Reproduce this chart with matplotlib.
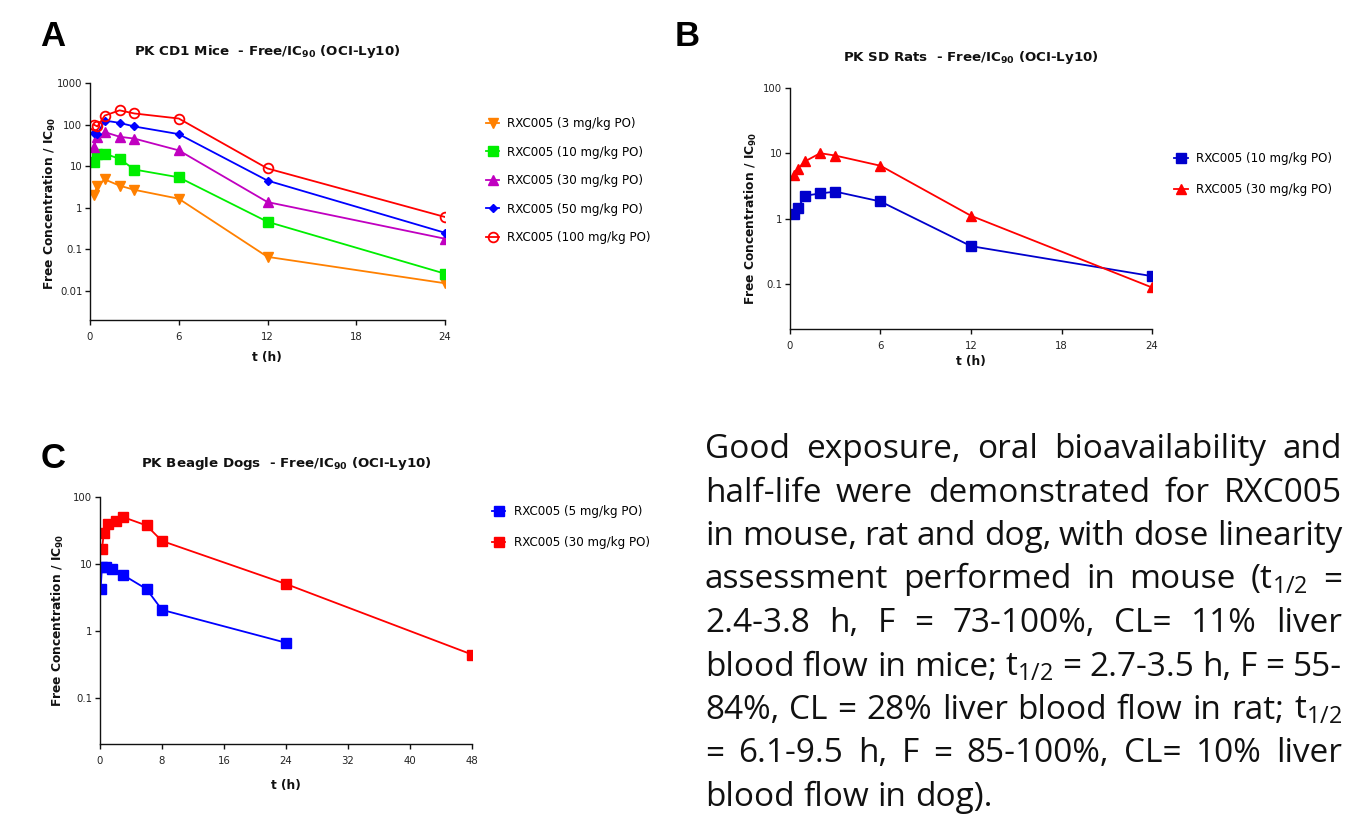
import numpy as np
import matplotlib
matplotlib.use("Agg")
import matplotlib.pyplot as plt

plt.rcParams['font.family'] = ['DejaVu Sans']
plt.rcParams['mathtext.fontset'] = 'custom'
plt.rcParams['mathtext.rm'] = 'Open Sans'
plt.rcParams['mathtext.it'] = 'Open Sans'
plt.rcParams['mathtext.default'] = 'rm'

# ---------------- data ----------------
# Panel A: CD1 mice
mice_t = [0.25, 0.5, 1, 2, 3, 6, 12, 24]
mice_3 = [2.0, 3.4, 4.8, 3.4, 2.7, 1.65, 0.066, 0.0153]
mice_10 = [12.5, 20, 20, 15, 8.3, 5.4, 0.46, 0.026]
mice_30 = [29, 50, 66, 51, 46, 24, 1.37, 0.18]
mice_50 = [62, 60, 125, 110, 90, 59, 4.5, 0.25]
mice_100 = [100, 90, 165, 220, 185, 140, 8.8, 0.6]
mice_labels = ['RXC005 (3 mg/kg PO)', 'RXC005 (10 mg/kg PO)', 'RXC005 (30 mg/kg PO)',
               'RXC005 (50 mg/kg PO)', 'RXC005 (100 mg/kg PO)']

# Panel B: SD rats
rat_t = [0.25, 0.5, 1, 2, 3, 6, 12, 24]
rat_10 = [1.2, 1.45, 2.27, 2.45, 2.62, 1.85, 0.385, 0.134]
rat_30 = [4.7, 5.8, 7.6, 10.1, 9.3, 6.5, 1.12, 0.09]
rat_labels = ['RXC005 (10 mg/kg PO)', 'RXC005 (30 mg/kg PO)']

# Panel C: beagle dogs
dog_t5 = [0.083, 0.25, 0.75, 1.5, 3, 6, 8, 24]
dog_5 = [4.2, 8.9, 8.9, 8.3, 6.8, 4.2, 2.05, 0.66]
dog_t30 = [0.25, 0.5, 1, 2, 3, 6, 8, 24, 48]
dog_30 = [16.5, 29, 40, 44, 50, 37.5, 22, 5.0, 0.44]
dog_labels = ['RXC005 (5 mg/kg PO)', 'RXC005 (30 mg/kg PO)']

text_lines = [
    "Good exposure, oral bioavailability and",
    "half-life were demonstrated for RXC005",
    "in mouse, rat and dog, with dose linearity",
    "assessment performed in mouse (t$_{1/2}$ =",
    "2.4-3.8 h, F = 73-100%, CL= 11% liver",
    "blood flow in mice; t$_{1/2}$ = 2.7-3.5 h, F = 55-",
    "84%, CL = 28% liver blood flow in rat; t$_{1/2}$",
    "= 6.1-9.5 h, F = 85-100%, CL= 10% liver",
    "blood flow in dog).",
]

# ---------------- layout ----------------
W, H = 1350, 815
fig = plt.figure(figsize=(W / 100, H / 100), dpi=100)


def rect(l, t, r, b):
    return [l / W, 1 - b / H, (r - l) / W, (b - t) / H]


def fx(x):
    return x / W


def fy(y):
    return 1 - y / H


TICKC = '#222222'


def style_axes(ax, xticks, yticks, ylabels, xlim, ylim):
    ax.set_yscale('log')
    ax.set_xlim(*xlim)
    ax.set_ylim(*ylim)
    for s in ['top', 'right']:
        ax.spines[s].set_visible(False)
    for s in ['left', 'bottom']:
        ax.spines[s].set_linewidth(1.0)
        ax.spines[s].set_color('#111111')
    ax.set_xticks(xticks)
    ax.set_xticklabels([str(v) for v in xticks])
    ax.set_yticks(yticks)
    ax.set_yticklabels(ylabels)
    ax.yaxis.set_minor_locator(matplotlib.ticker.NullLocator())
    ax.tick_params(axis='both', direction='out', length=3.5, width=1.0,
                   labelsize=7.3, labelcolor=TICKC, color='#111111')
    ax.tick_params(axis='x', pad=5)
    ax.tick_params(axis='y', pad=2)
    ax.patch.set_alpha(0)


def chart_title(x, y, s):
    fig.text(fx(x), fy(y), s, ha='center', va='center', fontsize=9.6,
             fontweight='bold', math_fontfamily='dejavusans', color='#111111')


def ylab(x, y):
    fig.text(fx(x), fy(y), r'Free Concentration / IC$_{\mathbf{90}}$', ha='center',
             va='center', rotation=90, fontsize=8.8, fontweight='bold',
             math_fontfamily='dejavusans', color='#111111')


def xlab(x, y):
    fig.text(fx(x), fy(y), 't (h)', ha='center', va='center', fontsize=8.8,
             fontweight='bold', color='#111111')


def letter(x, y, s):
    fig.text(fx(x), fy(y), s, ha='center', va='center', fontsize=25,
             fontweight='bold', family='Liberation Sans', color='#000000')


lw = 1.3

# ---- Panel A ----
axA = fig.add_axes(rect(90, 83, 445, 320))
orange, green, magenta, blueA, red = '#FF8000', '#00EE00', '#C000C0', '#0000FF', '#FF0000'
axA.plot(mice_t, mice_3, color=orange, marker='v', ms=7, lw=lw, label=mice_labels[0])
axA.plot(mice_t, mice_10, color=green, marker='s', ms=6.5, lw=lw, label=mice_labels[1])
axA.plot(mice_t, mice_30, color=magenta, marker='^', ms=7, lw=lw, label=mice_labels[2])
axA.plot(mice_t, mice_50, color=blueA, marker='D', ms=4.5, lw=lw, label=mice_labels[3])
axA.plot(mice_t, mice_100, color=red, marker='o', ms=7, lw=lw, mfc='none', mew=1.3,
         label=mice_labels[4])
style_axes(axA, [0, 6, 12, 18, 24], [0.01, 0.1, 1, 10, 100, 1000],
           ['0.01', '0.1', '1', '10', '100', '1000'], (0, 24), (0.002, 1000))
axA.legend(loc='upper left', bbox_to_anchor=(fx(486), fy(117)), bbox_transform=fig.transFigure,
           frameon=False, fontsize=8.6, handlelength=1.1, handletextpad=0.65,
           labelspacing=1.3, borderpad=0, borderaxespad=0)
chart_title(267, 52, r'PK CD1 Mice  - Free/IC$_{\mathbf{90}}$ (OCI-Ly10)')
ylab(50, 203)
xlab(267, 357)
letter(53, 36, 'A')

# ---- Panel B ----
axB = fig.add_axes(rect(790, 88, 1152, 329))
blueB = '#0000CC'
axB.plot(rat_t, rat_10, color=blueB, marker='s', ms=6.5, lw=lw, label=rat_labels[0])
axB.plot(rat_t, rat_30, color=red, marker='^', ms=6.5, lw=lw, label=rat_labels[1])
style_axes(axB, [0, 6, 12, 18, 24], [0.1, 1, 10, 100], ['0.1', '1', '10', '100'],
           (0, 24), (0.0209, 100))
axB.legend(loc='upper left', bbox_to_anchor=(fx(1174), fy(152)), bbox_transform=fig.transFigure,
           frameon=False, fontsize=8.6, handlelength=1.2, handletextpad=0.65,
           labelspacing=1.5, borderpad=0, borderaxespad=0)
chart_title(971, 57, r'PK SD Rats  - Free/IC$_{\mathbf{90}}$ (OCI-Ly10)')
ylab(751, 218)
xlab(971, 362)
letter(687, 37, 'B')

# ---- Panel C ----
axC = fig.add_axes(rect(100, 497, 472, 744))
blueC = '#0000FF'
axC.plot(dog_t5, dog_5, color=blueC, marker='s', ms=7, lw=lw, label=dog_labels[0])
axC.plot(dog_t30, dog_30, color=red, marker='s', ms=7, lw=lw, label=dog_labels[1])
style_axes(axC, [0, 8, 16, 24, 32, 40, 48], [0.1, 1, 10, 100], ['0.1', '1', '10', '100'],
           (0, 48), (0.0202, 100))
axC.legend(loc='upper left', bbox_to_anchor=(fx(492), fy(505)), bbox_transform=fig.transFigure,
           frameon=False, fontsize=8.6, handlelength=1.1, handletextpad=0.75,
           labelspacing=1.5, borderpad=0, borderaxespad=0)
chart_title(286, 463, r'PK Beagle Dogs  - Free/IC$_{\mathbf{90}}$ (OCI-Ly10)')
ylab(58, 620)
xlab(286, 785)
letter(53, 458, 'C')

# ---- justified paragraph ----
renderer = fig.canvas.get_renderer()
left_px, right_px = 705, 1342
base0, step = 458, 43.5
tfont = dict(fontsize=24, family='Open Sans', fontweight='normal', color='#111111')
for i, line in enumerate(text_lines):
    words = line.split(' ')
    y = fy(base0 + i * step)
    objs = [fig.text(0, y, w, va='baseline', ha='left', **tfont) for w in words]
    widths = [o.get_window_extent(renderer).width for o in objs]
    if i == len(text_lines) - 1:
        sp = fig.text(0, y, 'a a', **tfont)
        sa = fig.text(0, y, 'aa', **tfont)
        gap = sp.get_window_extent(renderer).width - sa.get_window_extent(renderer).width
        sp.remove()
        sa.remove()
    else:
        gap = (right_px - left_px - sum(widths)) / (len(words) - 1)
    x = left_px
    for o, w in zip(objs, widths):
        o.set_x(fx(x))
        x += w + gap

fig.savefig('out.png', dpi=100)
